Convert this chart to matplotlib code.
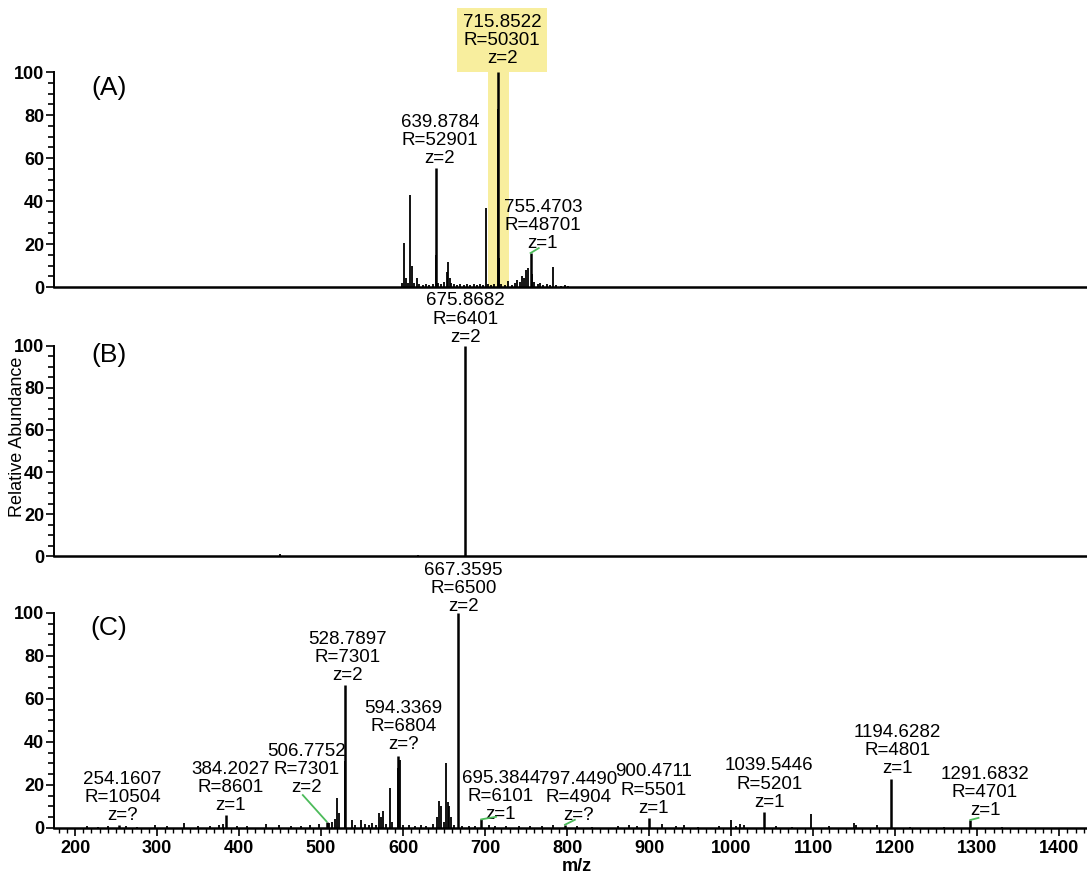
import matplotlib
matplotlib.use('Agg')
import matplotlib.pyplot as plt
from matplotlib.ticker import MultipleLocator

plt.rcParams['font.family'] = ['Liberation Sans', 'DejaVu Sans']

# --- spectrum (A): labelled peaks ---
ann_a_mz = [639.8784, 715.8522, 755.4703]
ann_a_int = [55.3, 100.0, 15.8]
ann_a_res = [52901, 50301, 48701]
ann_a_z = ['2', '2', '1']
# other centroids in (A)
peaks_a_mz = [599, 601.2, 603, 606, 608.5, 610.6, 613, 617, 620, 624, 628, 632, 636,
              640.38, 643, 646, 650, 653, 655.3, 657, 659, 662, 666, 670, 674, 678,
              682, 686, 690, 694, 697, 701.2, 703, 707, 711, 716.35, 716.85, 720,
              724, 728, 733, 736, 739, 742, 744.7, 747, 750, 752, 757, 760, 764,
              767, 771, 775, 779, 783, 787, 792, 797, 801]
peaks_a_int = [2, 20.5, 4, 2, 42.8, 10, 2, 4, 1.5, 1, 1.5, 1, 1.2,
               15, 2, 1.5, 2.5, 7, 11.8, 4, 2, 1.5, 1, 1.2, 1, 1.5,
               1, 1.5, 1, 1.2, 1, 36.6, 1.5, 1, 1.2, 83, 13.5, 1.5,
               1, 3, 1, 2, 3.5, 2.5, 5, 4, 8, 9, 6, 2.5, 1.5,
               2, 1, 1.5, 1, 9.3, 1, 0.6, 0.8, 0.5]
# highlighted isolation window in (A)
window_a = (703, 729)

# --- spectrum (B) ---
ann_b_mz = [675.8682]
ann_b_int = [100.0]
ann_b_res = [6401]
ann_b_z = ['2']
peaks_b_mz = [450, 618]
peaks_b_int = [0.8, 0.6]

# --- spectrum (C): labelled peaks ---
ann_c_mz = [254.1607, 384.2027, 506.7752, 528.7897, 594.3369, 667.3595,
            695.3844, 797.4490, 900.4711, 1039.5446, 1194.6282, 1291.6832]
ann_c_int = [1.2, 6.0, 3.0, 66.5, 33.5, 100.0, 4.0, 1.5, 4.6, 7.4, 23.0, 3.7]
ann_c_res = [10504, 8601, 7301, 7301, 6804, 6500, 6101, 4904, 5501, 5201, 4801, 4701]
ann_c_z = ['?', '1', '2', '2', '?', '2', '1', '?', '1', '1', '1', '1']
peaks_c_mz = [215, 228, 240, 262, 276, 298, 312, 333, 350, 365, 376, 381, 397, 410,
              433, 449, 463, 476, 487, 498, 510, 513, 517, 519.8, 522.3, 529.29,
              537.5, 542, 549, 553, 558, 562, 567, 570.5, 573, 576, 579, 584.5, 587,
              593.3, 596.3, 600, 607, 614, 622, 628, 637, 641.5, 644, 646, 650,
              652.5, 654.5, 656.5, 659, 662, 672, 680, 688, 705, 712, 726, 741,
              755, 770, 783, 812, 830, 862, 876, 885, 916, 933, 943, 960, 985,
              1000, 1006, 1011, 1016, 1055, 1074, 1098, 1120, 1150, 1152, 1178,
              1218, 1260, 1330]
peaks_c_int = [0.8, 0.6, 1.0, 0.8, 0.6, 1.2, 0.8, 2.5, 0.8, 1.0, 1.2, 1.8, 1.0, 0.8,
               2.0, 1.2, 1.0, 0.8, 1.2, 2.0, 2.5, 3.0, 4.0, 14, 7, 31,
               3.5, 1.2, 3.5, 2, 1.5, 2.2, 1.5, 7, 5, 8, 2, 18.6, 3,
               28, 31.5, 1.2, 1.5, 1.0, 1.5, 1.0, 2.0, 5, 12.5, 10, 3,
               30, 12, 10, 5, 1.5, 1, 0.8, 1, 1.2, 0.8, 1.0, 1.0,
               0.8, 0.8, 1.2, 0.8, 0.6, 1.0, 1.4, 0.8, 2, 0.8, 1.5, 0.6, 0.8,
               3.7, 1.0, 1.8, 1.5, 0.8, 0.6, 6.5, 0.8, 2.5, 1.5, 1.2,
               0.6, 0.6, 0.5]

# label placement: offset of the text's bottom-centre from the peak top (m/z, %)
place_a = [(5, 0.6), (5, 2.4), (15, 0.6)]
place_b = [(0, 0.2)]
place_c = [(4, 0.8), (5, 0.6), (-25, 12.0), (4, 0.5), (6, 1.2), (6, -0.8),
           (24, -1.5), (16, 0.5), (5, 0.7), (7, 0.7), (8, 0.7), (18, 0.6)]
# green leader lines: index of labelled peak -> end point offset (m/z, %)
leaders_a = {2: (10, 2.3)}
leaders_c = {2: (-29, 12.3), 6: (18, 1.2), 7: (12, 2.3), 11: (10, 1.0)}

XLIM = (174.4, 1434)
HIGHLIGHT = '#f8ee9e'
LEADER = '#4cbb5a'
LABEL_FS = 13.5
TICK_FS = 13


def style_axis(ax, show_x):
    ax.set_xlim(*XLIM)
    ax.set_ylim(0, 100)
    for side in ('top', 'right'):
        ax.spines[side].set_visible(False)
    ax.spines['left'].set_linewidth(1.4)
    ax.spines['bottom'].set_linewidth(1.8)
    ax.yaxis.set_major_locator(MultipleLocator(20))
    ax.yaxis.set_minor_locator(MultipleLocator(5))
    ax.tick_params(axis='y', which='major', length=6, width=1.2, pad=1,
                   labelsize=TICK_FS)
    ax.tick_params(axis='y', which='minor', length=4, width=1.2)
    for lab in ax.get_yticklabels():
        lab.set_fontweight('bold')
    if show_x:
        ax.xaxis.set_major_locator(MultipleLocator(100))
        ax.xaxis.set_minor_locator(MultipleLocator(10))
        ax.tick_params(axis='x', which='major', length=6, width=1.2, pad=3,
                       labelsize=TICK_FS)
        ax.tick_params(axis='x', which='minor', length=3.5, width=1.0)
        for lab in ax.get_xticklabels():
            lab.set_fontweight('bold')
    else:
        ax.set_xticks([])


def draw_spectrum(ax, mz, inten, ann_mz, ann_int, ann_res, ann_z, place, leaders,
                  box=None):
    ax.vlines(mz, 0, inten, color='black', lw=1.3)
    ax.vlines(ann_mz, 0, ann_int, color='black', lw=1.8)
    for i, (m, h, r, z) in enumerate(zip(ann_mz, ann_int, ann_res, ann_z)):
        dx, dy = place[i]
        txt = f'{m:.4f}\nR={r}\nz={z}'
        kw = {}
        if box is not None and box == i:
            kw['bbox'] = dict(boxstyle='square,pad=0.3', facecolor=HIGHLIGHT,
                              edgecolor='none')
        ax.text(m + dx, h + dy, txt, ha='center', va='bottom',
                fontsize=LABEL_FS, linespacing=1.08, multialignment='center',
                clip_on=False, **kw)
        if i in leaders:
            ex, ey = leaders[i]
            ax.plot([m, m + ex], [h, h + ey], color=LEADER, lw=1.3,
                    clip_on=False, zorder=4)


fig = plt.figure(figsize=(10.87, 8.77), dpi=100)
ax_a = fig.add_axes([0.0497, 0.6727, 0.9503, 0.2452])
ax_b = fig.add_axes([0.0497, 0.3660, 0.9503, 0.2395])
ax_c = fig.add_axes([0.0497, 0.0559, 0.9503, 0.2452])

ax_a.axvspan(*window_a, color=HIGHLIGHT, lw=0, zorder=0)
draw_spectrum(ax_a, peaks_a_mz, peaks_a_int, ann_a_mz, ann_a_int, ann_a_res,
              ann_a_z, place_a, leaders_a, box=1)
draw_spectrum(ax_b, peaks_b_mz, peaks_b_int, ann_b_mz, ann_b_int, ann_b_res,
              ann_b_z, place_b, {})
draw_spectrum(ax_c, peaks_c_mz, peaks_c_int, ann_c_mz, ann_c_int, ann_c_res,
              ann_c_z, place_c, leaders_c)

style_axis(ax_a, False)
style_axis(ax_b, False)
style_axis(ax_c, True)

for ax, tag, y in ((ax_a, '(A)', 0.8997), (ax_b, '(B)', 0.5952), (ax_c, '(C)', 0.2840)):
    fig.text(0.1000, y, tag, fontsize=19, ha='center', va='center')

fig.text(0.016, 0.502, 'Relative Abundance', rotation=90, ha='center',
         va='center', fontsize=13)
fig.text(0.531, 0.0115, 'm/z', ha='center', va='center', fontsize=13,
         fontweight='bold')

fig.savefig('out.png', dpi=100)
